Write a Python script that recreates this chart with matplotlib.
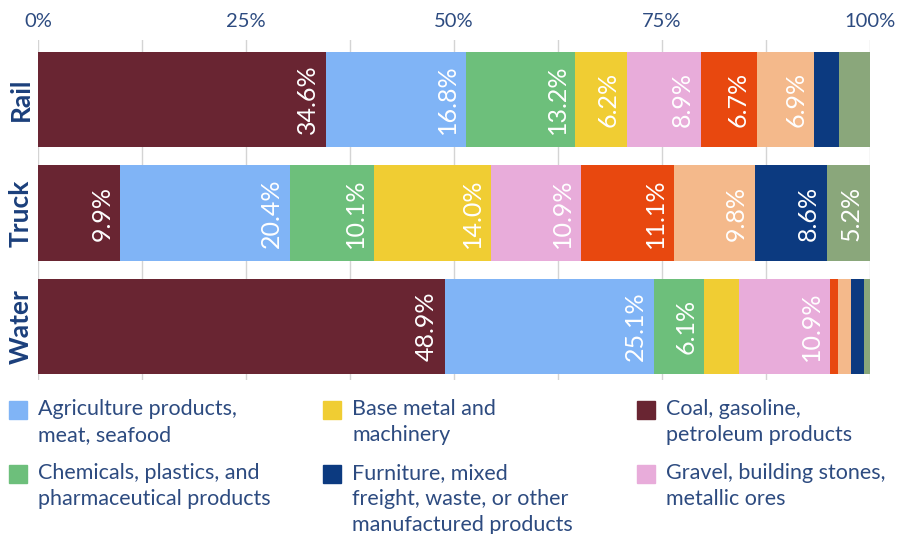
import matplotlib
matplotlib.use("Agg")
import matplotlib.pyplot as plt
from matplotlib.patches import Rectangle

plt.rcParams['font.family'] = ['Lato', 'DejaVu Sans']

# freight shares (%) by mode: Rail, Truck, Water
modes = ["Rail", "Truck", "Water"]
coal = [34.6, 9.9, 48.9]
agri = [16.8, 20.4, 25.1]
chem = [13.2, 10.1, 6.1]
base = [6.2, 14.0, 4.2]
gravel = [8.9, 10.9, 10.9]
other_a = [6.7, 11.1, 0.9]
other_b = [6.9, 9.8, 1.6]
furniture = [3.0, 8.6, 1.6]
other_c = [3.7, 5.2, 0.7]

names = ["Coal, gasoline,\npetroleum products",
         "Agriculture products,\nmeat, seafood",
         "Chemicals, plastics, and\npharmaceutical products",
         "Base metal and\nmachinery",
         "Gravel, building stones,\nmetallic ores",
         "Other A", "Other B",
         "Furniture, mixed\nfreight, waste, or other\nmanufactured products",
         "Other C"]
series = [coal, agri, chem, base, gravel, other_a, other_b, furniture, other_c]
colors = ["#692532", "#80b4f6", "#6dbf7b", "#f0cd33", "#e8acda",
          "#e8480f", "#f4b98b", "#0c3a80", "#8aa77b"]
legend_order = [1, 3, 0, 2, 7, 4]   # row-major, 3 columns

text_col = "#2d4b80"

W, H = 898, 534
fig = plt.figure(figsize=(W / 100, H / 100), dpi=100)
ax = fig.add_axes([38 / W, 1 - 380 / H, 832 / W, 340 / H])

ypos = range(len(modes))
left = [0.0] * len(modes)
for vals, col in zip(series, colors):
    ax.barh(ypos, vals, left=left, height=0.837, color=col, zorder=3)
    for i, v in enumerate(vals):
        if v >= 5:
            ax.annotate(f"{v:.1f}%", xy=(left[i] + v, i), xytext=(-5, 0),
                        textcoords="offset points", rotation=90,
                        ha="right", va="center", color="white",
                        fontsize=18, zorder=4)
    left = [l + v for l, v in zip(left, vals)]

ax.set_xlim(0, 100)
ax.set_ylim(2.471, -0.524)
ax.xaxis.tick_top()
ax.set_xticks([0, 25, 50, 75, 100], ["0%", "25%", "50%", "75%", "100%"])
ax.set_xticks([12.5, 37.5, 62.5, 87.5], minor=True)
ax.tick_params(axis="x", which="both", length=0, pad=7, labelsize=14.5,
               labelcolor=text_col)
ax.grid(axis="x", which="both", color="#d4d4d4", linewidth=1, zorder=0)
ax.set_yticks(list(ypos), modes, rotation=90, va="center")
ax.tick_params(axis="y", length=0, pad=4, labelsize=19, labelcolor="#1b3f7b")
for t in ax.get_yticklabels():
    t.set_fontweight("bold")
for s in ax.spines.values():
    s.set_visible(False)

# legend, drawn by hand in pixel positions
col_x = [9, 323, 637]
row_y = [401, 465]
for k, idx in enumerate(legend_order):
    r, c = divmod(k, 3)
    x0, y0 = col_x[c], row_y[r]
    fig.add_artist(Rectangle((x0 / W, 1 - (y0 + 18) / H), 18 / W, 18 / H,
                             transform=fig.transFigure, color=colors[idx]))
    fig.text((x0 + 29) / W, 1 - (y0 - 2) / H, names[idx], ha="left",
             va="top", fontsize=15.5, color=text_col, linespacing=1.38)

fig.savefig("out.png", dpi=100)
